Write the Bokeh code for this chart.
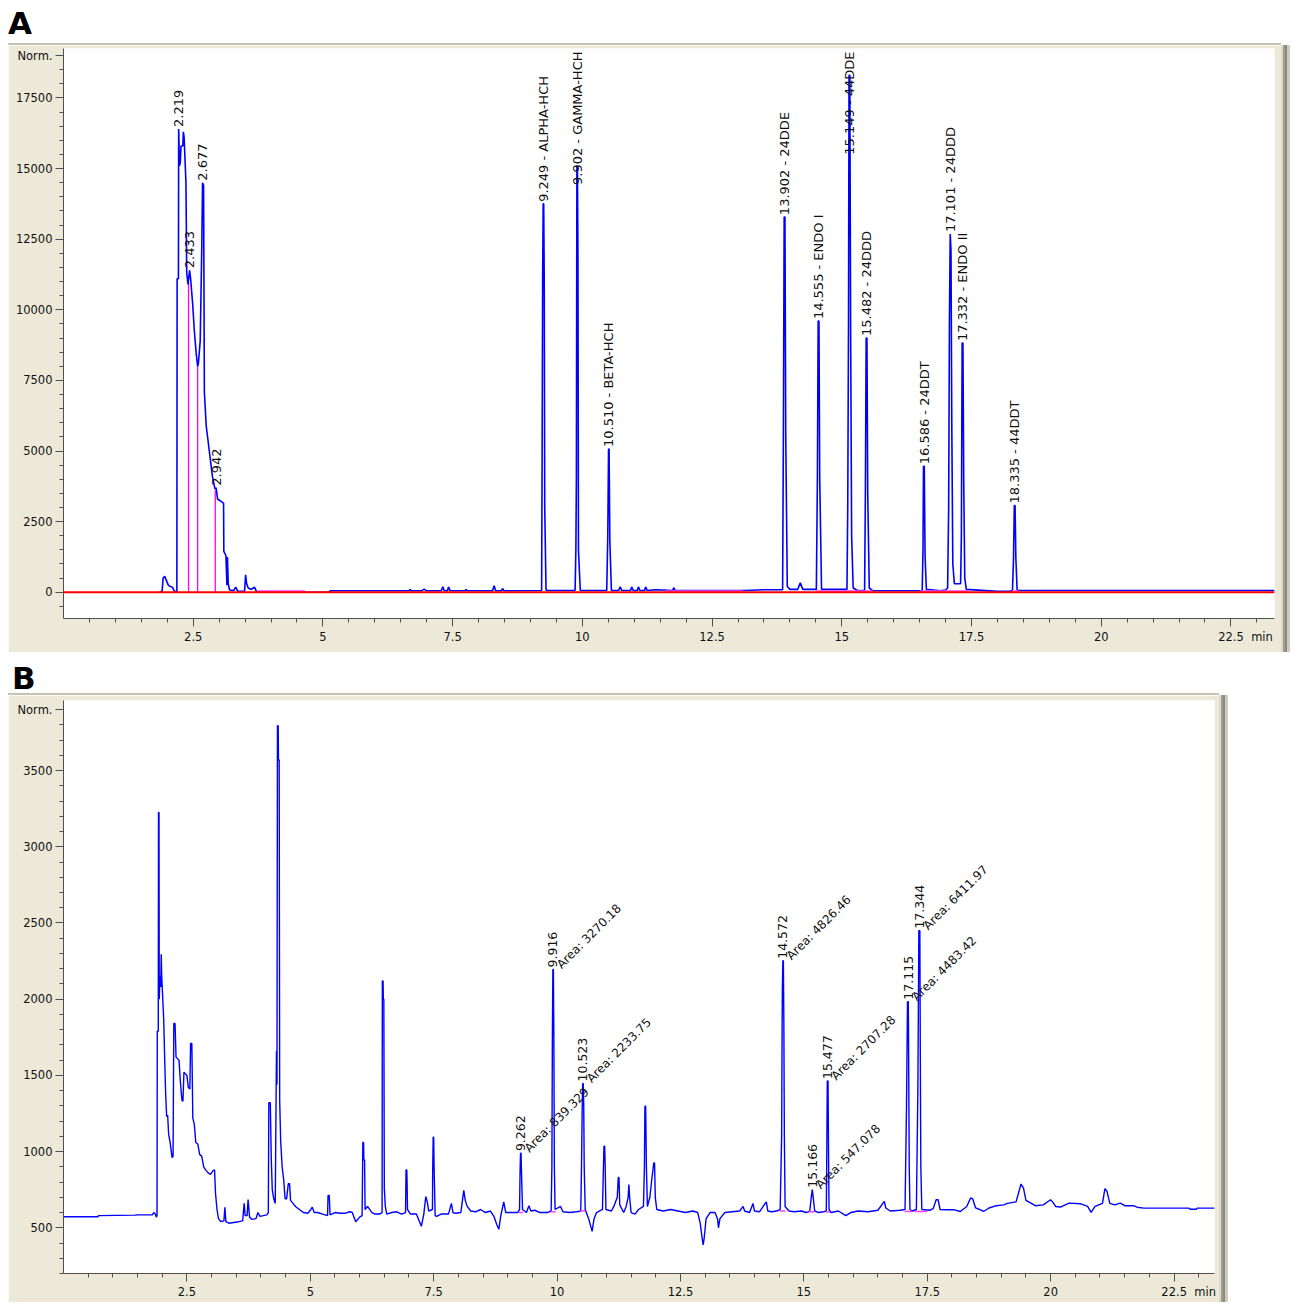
from bokeh.plotting import figure
from bokeh.models import FixedTicker, NumeralTickFormatter, Div, Span
from bokeh.layouts import column
from bokeh.embed import file_html
from bokeh.resources import INLINE
from bokeh.core.properties import value
import math

# ---------------- DATA : panel A (standard mix) ----------------
trace_a = [
    (1.85, 0), (1.90, 30), (1.92, 500), (1.95, 560), (1.98, 430), (2.02, 250), (2.06, 200),
    (2.10, 180), (2.13, 60), (2.17, 0), (2.185, 0), (2.19, 11100), (2.215, 11100), (2.22, 16400),
    (2.235, 15100), (2.25, 15200), (2.265, 15800), (2.30, 15800), (2.31, 16300), (2.325, 16100),
    (2.36, 14500), (2.375, 11300), (2.40, 10900), (2.43, 11400), (2.45, 11100), (2.49, 10200),
    (2.52, 9300), (2.555, 8500), (2.585, 8000), (2.60, 8100), (2.635, 8900), (2.665, 12200),
    (2.68, 14500), (2.70, 14400), (2.715, 7100), (2.75, 5900), (2.81, 5000), (2.87, 4100),
    (2.92, 3650), (2.94, 3700), (2.97, 3300), (3.05, 3200), (3.085, 3150), (3.09, 1450),
    (3.13, 1300), (3.15, 250), (3.16, 1250), (3.175, 300), (3.20, 80), (3.28, 60), (3.32, 180),
    (3.36, 30), (3.49, 30), (3.51, 620), (3.53, 300), (3.56, 150), (3.62, 100), (3.68, 180),
    (3.72, 20), (3.80, 0), (5.10, 0), (5.15, 50), (6.30, 50), (6.66, 50), (6.68, 100), (6.70, 50),
    (6.90, 50), (6.95, 110), (7.00, 50), (7.28, 50), (7.31, 190), (7.34, 50), (7.40, 50),
    (7.42, 190), (7.45, 50), (7.74, 50), (7.76, 100), (7.78, 50), (8.27, 50), (8.30, 230),
    (8.33, 50), (8.44, 50), (8.46, 130), (8.49, 50), (9.20, 60), (9.215, 60), (9.225, 5000),
    (9.235, 11200), (9.245, 13750), (9.255, 13750), (9.265, 11200), (9.275, 3000), (9.30, 80),
    (9.33, 60), (9.86, 60), (9.875, 1500), (9.885, 4000), (9.895, 15070), (9.905, 15070),
    (9.915, 12000), (9.925, 1500), (9.96, 60), (10.47, 60), (10.49, 2000), (10.505, 5070),
    (10.515, 5070), (10.53, 1800), (10.56, 60), (10.70, 60), (10.73, 190), (10.76, 60),
    (10.93, 60), (10.95, 190), (10.98, 60), (11.06, 60), (11.08, 190), (11.11, 60), (11.20, 60),
    (11.22, 190), (11.25, 60), (11.40, 90), (11.55, 80), (11.74, 60), (11.76, 160), (11.79, 60),
    (12.10, 60), (12.80, 60), (13.13, 60), (13.50, 90), (13.80, 90), (13.86, 90), (13.875, 5800),
    (13.89, 13280), (13.905, 13280), (13.92, 5500), (13.95, 200), (14.00, 100), (14.15, 100),
    (14.20, 330), (14.25, 100), (14.45, 100), (14.51, 100), (14.53, 4000), (14.545, 9600),
    (14.56, 9600), (14.575, 4000), (14.61, 100), (15.05, 100), (15.10, 100), (15.115, 3000),
    (15.13, 9600), (15.14, 18300), (15.155, 18300), (15.17, 9500), (15.19, 2000), (15.22, 150),
    (15.30, 60), (15.44, 60), (15.455, 3500), (15.47, 9000), (15.485, 9000), (15.50, 3500),
    (15.53, 150), (15.60, 50), (16.50, 50), (16.55, 60), (16.565, 1500), (16.575, 4460),
    (16.59, 4460), (16.605, 1300), (16.63, 100), (16.90, 50), (17.00, 80), (17.04, 150),
    (17.06, 3000), (17.075, 9700), (17.09, 12680), (17.105, 12100), (17.12, 6000), (17.14, 1000),
    (17.17, 300), (17.29, 300), (17.305, 2000), (17.32, 8820), (17.335, 8820), (17.35, 4000),
    (17.37, 500), (17.40, 100), (18.00, 30), (18.25, 40), (18.29, 60), (18.31, 1200),
    (18.325, 3070), (18.34, 3070), (18.355, 1200), (18.38, 60), (23.34, 60),
]
a_time = [p[0] for p in trace_a]
a_signal = [p[1] for p in trace_a]

a_peak_rt = ["2.219", "2.433", "2.677", "2.942", "9.249", "9.902", "10.510", "13.902",
             "14.555", "15.149", "15.482", "16.586", "17.101", "17.332", "18.335"]
a_peak_name = ["", "", "", "", "ALPHA-HCH", "GAMMA-HCH", "BETA-HCH", "24DDE",
               "ENDO I", "44DDE", "24DDD", "24DDT", "24DDD", "ENDO II", "44DDT"]
a_peak_height = [16400, 11400, 14500, 3700, 13750, 15070, 5070, 13280,
                 9600, 18300, 9000, 4460, 12680, 8820, 3070]

a_split_time = [2.41, 2.585, 2.925]
a_split_top = [10950, 8040, 3600]

a_base_start = [3.75, 11.60, 14.50, 16.50, 18.28]
a_base_end = [4.65, 13.10, 15.60, 17.45, 18.40]
a_base_level = [40, 40, 40, 40, 40]

a_y_ticks = [0, 2500, 5000, 7500, 10000, 12500, 15000, 17500]

# ---------------- DATA : panel B (sample) ----------------
trace_b = [
    (0.00, 572), (0.70, 572), (0.71, 580), (1.45, 583), (1.50, 585), (1.80, 585), (1.83, 600),
    (1.86, 590), (1.88, 570), (1.895, 580), (1.90, 1790), (1.92, 1790), (1.925, 3225),
    (1.935, 3225), (1.94, 2000), (1.955, 2150), (1.97, 2080), (1.98, 2295), (1.99, 2150),
    (2.00, 2080), (2.03, 1870), (2.05, 1610), (2.07, 1375), (2.09, 1230), (2.11, 1240),
    (2.13, 1115), (2.16, 1060), (2.20, 960), (2.22, 970), (2.235, 1840), (2.26, 1840),
    (2.28, 1620), (2.31, 1610), (2.34, 1600), (2.37, 1450), (2.40, 1335), (2.42, 1330),
    (2.44, 1520), (2.47, 1510), (2.50, 1500), (2.53, 1420), (2.56, 1410), (2.575, 1710),
    (2.60, 1710), (2.62, 1220), (2.65, 1180), (2.68, 1060), (2.72, 1050), (2.76, 980),
    (2.80, 970), (2.84, 900), (2.88, 880), (2.93, 860), (2.98, 850), (3.03, 875), (3.06, 880),
    (3.08, 725), (3.11, 620), (3.14, 560), (3.19, 540), (3.25, 545), (3.27, 635), (3.29, 540),
    (3.35, 530), (3.45, 535), (3.55, 540), (3.63, 545), (3.66, 660), (3.68, 580), (3.72, 580),
    (3.74, 685), (3.77, 570), (3.82, 555), (3.90, 560), (3.94, 600), (3.98, 575), (4.05, 580),
    (4.12, 585), (4.15, 600), (4.16, 1320), (4.19, 1320), (4.21, 950), (4.23, 750), (4.26, 690),
    (4.29, 660), (4.30, 1060), (4.315, 1660), (4.325, 1440), (4.335, 3795), (4.35, 3795),
    (4.355, 3570), (4.37, 3570), (4.38, 1335), (4.40, 1070), (4.43, 900), (4.46, 820),
    (4.49, 690), (4.52, 690), (4.555, 790), (4.58, 790), (4.60, 680), (4.65, 660), (4.70, 640),
    (4.78, 620), (4.86, 600), (4.95, 595), (5.00, 615), (5.04, 635), (5.08, 600), (5.15, 600),
    (5.25, 590), (5.35, 580), (5.36, 712), (5.385, 712), (5.40, 585), (5.50, 600), (5.60, 595),
    (5.70, 595), (5.80, 605), (5.85, 600), (5.92, 540), (6.00, 570), (6.05, 580), (6.065, 1060),
    (6.08, 1060), (6.085, 945), (6.10, 945), (6.11, 620), (6.16, 640), (6.25, 600), (6.31, 590),
    (6.40, 590), (6.455, 600), (6.46, 2120), (6.475, 2120), (6.48, 2000), (6.49, 2000),
    (6.50, 760), (6.52, 640), (6.55, 590), (6.65, 600), (6.75, 605), (6.85, 590), (6.93, 600),
    (6.94, 880), (6.955, 880), (6.96, 820), (6.97, 620), (7.03, 590), (7.15, 590), (7.25, 510),
    (7.30, 590), (7.34, 705), (7.37, 670), (7.40, 610), (7.475, 620), (7.48, 870), (7.49, 1095),
    (7.50, 1095), (7.51, 870), (7.53, 580), (7.56, 575), (7.65, 590), (7.80, 590), (7.86, 660),
    (7.89, 600), (7.95, 595), (8.05, 600), (8.11, 745), (8.14, 680), (8.18, 640), (8.25, 610),
    (8.35, 605), (8.45, 620), (8.55, 600), (8.65, 610), (8.72, 575), (8.78, 520), (8.82, 490),
    (8.86, 580), (8.92, 670), (8.96, 600), (9.05, 600), (9.20, 600), (9.24, 620), (9.25, 860),
    (9.26, 990), (9.27, 990), (9.28, 860), (9.30, 620), (9.38, 600), (9.43, 645), (9.47, 610),
    (9.55, 615), (9.65, 600), (9.80, 600), (9.88, 610), (9.895, 900), (9.905, 1750),
    (9.915, 2195), (9.925, 2195), (9.935, 1750), (9.945, 900), (9.96, 620), (10.07, 640),
    (10.12, 605), (10.25, 600), (10.40, 605), (10.48, 610), (10.495, 900), (10.51, 1310),
    (10.52, 1447), (10.53, 1447), (10.54, 1310), (10.55, 900), (10.57, 620), (10.64, 560),
    (10.71, 476), (10.75, 560), (10.80, 600), (10.92, 620), (10.94, 900), (10.95, 1035),
    (10.965, 1035), (10.975, 900), (10.99, 620), (11.10, 610), (11.15, 640), (11.22, 700),
    (11.24, 830), (11.255, 830), (11.27, 650), (11.35, 600), (11.40, 640), (11.44, 700),
    (11.455, 783), (11.47, 700), (11.50, 600), (11.58, 590), (11.65, 620), (11.75, 640),
    (11.77, 900), (11.78, 1298), (11.795, 1298), (11.81, 900), (11.83, 640), (11.88, 700),
    (11.92, 820), (11.96, 926), (11.975, 926), (11.99, 700), (12.02, 620), (12.15, 610),
    (12.30, 620), (12.45, 610), (12.60, 600), (12.75, 610), (12.85, 600), (12.90, 530),
    (12.94, 430), (12.96, 388), (12.98, 430), (13.02, 560), (13.10, 600), (13.20, 600),
    (13.25, 560), (13.27, 500), (13.30, 560), (13.40, 600), (13.55, 605), (13.70, 610),
    (13.77, 640), (13.80, 610), (13.90, 600), (13.97, 660), (14.00, 610), (14.10, 605),
    (14.24, 670), (14.27, 610), (14.35, 605), (14.45, 610), (14.52, 620), (14.55, 1100),
    (14.56, 1836), (14.565, 2066), (14.575, 2252), (14.585, 2252), (14.595, 1836),
    (14.605, 1100), (14.62, 640), (14.70, 610), (14.80, 605), (14.95, 610), (15.05, 600),
    (15.12, 610), (15.15, 700), (15.17, 750), (15.19, 700), (15.22, 610), (15.30, 600),
    (15.40, 605), (15.455, 610), (15.465, 1000), (15.475, 1463), (15.49, 1463), (15.50, 1000),
    (15.51, 620), (15.55, 600), (15.70, 610), (15.85, 580), (15.95, 600), (16.10, 610),
    (16.30, 605), (16.50, 615), (16.60, 660), (16.63, 673), (16.66, 630), (16.75, 610),
    (16.95, 615), (17.05, 620), (17.08, 1300), (17.10, 1984), (17.115, 1984), (17.12, 1800),
    (17.135, 900), (17.15, 620), (17.20, 610), (17.28, 620), (17.31, 1400), (17.33, 2450),
    (17.35, 2450), (17.36, 1600), (17.37, 900), (17.39, 620), (17.55, 615), (17.62, 625),
    (17.68, 684), (17.72, 684), (17.76, 620), (17.90, 618), (18.05, 618), (18.17, 607),
    (18.30, 640), (18.38, 696), (18.42, 690), (18.48, 630), (18.56, 620), (18.64, 607),
    (18.75, 630), (18.90, 645), (19.05, 650), (19.12, 660), (19.30, 670), (19.40, 787),
    (19.45, 760), (19.50, 680), (19.69, 645), (19.85, 650), (20.00, 684), (20.04, 670),
    (20.10, 640), (20.20, 636), (20.37, 662), (20.60, 658), (20.75, 640), (20.82, 601),
    (20.90, 640), (21.05, 660), (21.10, 757), (21.14, 740), (21.20, 660), (21.30, 650),
    (21.41, 662), (21.50, 645), (21.68, 645), (21.75, 635), (21.89, 629), (22.80, 629),
    (22.83, 622), (22.95, 622), (22.97, 629), (23.32, 629),
]
b_time = [p[0] for p in trace_b]
b_signal = [p[1] for p in trace_b]

b_peak_rt = ["9.262", "9.916", "10.523", "14.572", "15.166", "15.477", "17.115", "17.344"]
b_peak_area = ["839.329", "3270.18", "2233.75", "4826.46", "547.078", "2707.28", "4483.42", "6411.97"]
b_peak_height = [990, 2195, 1447, 2252, 750, 1463, 1984, 2450]

b_base_start = [9.22, 9.87, 10.47, 14.51, 15.10, 15.44, 17.04, 17.24]
b_base_end = [9.31, 9.97, 10.57, 14.63, 15.22, 15.53, 17.19, 17.50]
b_base_level = [600, 605, 610, 610, 605, 605, 607, 607]

b_y_ticks = [500, 1000, 1500, 2000, 2500, 3000, 3500]

x_ticks = [2.5, 5, 7.5, 10, 12.5, 15, 17.5, 20, 22.5]
x_unit = "min"

# ---------------- STYLE ----------------
BEIGE = "#ECE9D8"
BLUE = "#0000FF"
AXIS_COL = "#505050"
TXT = "#111111"
FONT = "DejaVu Sans"

A_X = (0.0, 23.34)
A_Y = (-930.0, 19250.0)
B_X = (0.0, 23.32)
B_Y = (200.0, 3960.0)

WINDOW_SHADOW = ("0 -2px 0 #c6c3b2, 2px 0 0 #dcd9ca, 4px 0 0 #a09e92, "
                 "6px 0 0 #8c8a80, 9px 0 0 #cfccbd")
# left padding (figure spaces) keeps the number centred on its tick
UNIT_PAD = "\u2007\u2007\u2007\u2007"


def text_px(s, size):
    w = 0.0
    for ch in s:
        if ch.isdigit():
            w += 0.636
        elif ch in ".: ":
            w += 0.318
        elif ch == "-":
            w += 0.361
        elif ch.isupper():
            w += 0.76
        else:
            w += 0.6
    return w * size


def make_fig(xr, yr, fw, fh, left, right, top, bottom, yticks, ytop_tick, ystep_minor):
    p = figure(frame_width=fw, frame_height=fh, x_range=xr, y_range=yr,
               output_backend="svg", toolbar_location=None,
               min_border_left=left, min_border_right=right,
               min_border_top=top, min_border_bottom=bottom)
    p.background_fill_color = "white"
    p.border_fill_color = BEIGE
    p.outline_line_color = None
    p.grid.visible = False
    minor_x = [i * 0.5 for i in range(0, 48) if (i * 0.5) % 2.5 != 0 and i * 0.5 <= xr[1]]
    p.xaxis.ticker = FixedTicker(ticks=x_ticks, minor_ticks=minor_x)
    p.xaxis.formatter = NumeralTickFormatter(format="0.[0]")
    last = x_ticks[-1]
    p.xaxis.major_label_overrides = {last: UNIT_PAD + "%g\u00a0\u00a0%s" % (last, x_unit)}
    lo = int(math.ceil(yr[0] / ystep_minor)) * ystep_minor
    minor_y = list(range(lo, ytop_tick + 1, ystep_minor))
    p.yaxis.ticker = FixedTicker(ticks=yticks + [ytop_tick], minor_ticks=minor_y)
    p.yaxis.formatter = NumeralTickFormatter(format="0")
    p.yaxis.major_label_overrides = {ytop_tick: "Norm."}
    for ax in (p.xaxis[0], p.yaxis[0]):
        ax.axis_line_color = AXIS_COL
        ax.major_tick_line_color = AXIS_COL
        ax.minor_tick_line_color = AXIS_COL
        ax.major_tick_in = 0
        ax.minor_tick_in = 0
        ax.major_tick_out = 8
        ax.minor_tick_out = 4
        ax.major_label_text_font = FONT
        ax.major_label_text_font_size = "11.5px"
        ax.major_label_text_color = TXT
    p.xaxis.major_label_standoff = 3
    p.yaxis.major_label_standoff = 3
    p.margin = (0, 0, 0, 0)
    p.styles = {"box-shadow": WINDOW_SHADOW}
    return p


# ---------------- PANEL A ----------------
pa = make_fig(A_X, A_Y, 1211, 570, 55, 7, 3, 34, a_y_ticks, 19000, 500)
ax_px = (A_X[1] - A_X[0]) / 1211.0
ay_px = (A_Y[1] - A_Y[0]) / 570.0

pa.segment(x0=a_split_time, y0=[0] * len(a_split_time), x1=a_split_time, y1=a_split_top,
           line_color="#FF00FF", line_width=1.3)
pa.line(a_time, a_signal, line_color=BLUE, line_width=1.6)
pa.segment(x0=a_base_start, y0=a_base_level, x1=a_base_end, y1=a_base_level,
           line_color="#FF40FF", line_width=1.5)
pa.add_layout(Span(location=0, dimension="width", line_color="#FF0000", line_width=2))

A_FS = 13
lab_l = dict(x=[], y=[], t=[])
lab_r = dict(x=[], y=[], t=[])
for rt, nm, h in zip(a_peak_rt, a_peak_name, a_peak_height):
    txt = rt + " - " + nm if nm else rt
    y0 = h + 2 * ay_px
    need = y0 + text_px(txt, A_FS) * ay_px
    if need > A_Y[1] - 3 * ay_px:
        lab_r["x"].append(float(rt)); lab_r["y"].append(A_Y[1] - 3 * ay_px); lab_r["t"].append(txt)
    else:
        lab_l["x"].append(float(rt)); lab_l["y"].append(y0); lab_l["t"].append(txt)
for d, al in ((lab_l, "left"), (lab_r, "right")):
    pa.text(x=d["x"], y=d["y"], text=d["t"], angle=math.pi / 2, text_align=al,
            text_baseline="middle", text_font=value(FONT), text_font_size="%dpx" % A_FS,
            text_color=TXT)

# ---------------- PANEL B ----------------
pb = make_fig(B_X, B_Y, 1151, 573, 55, 5, 5, 29, b_y_ticks, 3900, 100)
bx_px = (B_X[1] - B_X[0]) / 1151.0
by_px = (B_Y[1] - B_Y[0]) / 573.0

pb.line(b_time, b_signal, line_color=BLUE, line_width=1.4)
pb.segment(x0=b_base_start, y0=b_base_level, x1=b_base_end, y1=b_base_level,
           line_color="#FF40FF", line_width=1.5)

bx = [float(r) for r in b_peak_rt]
pb.text(x=bx, y=[h + 2 * by_px for h in b_peak_height], text=b_peak_rt, angle=math.pi / 2,
        text_align="left", text_baseline="middle", text_font=value(FONT),
        text_font_size="12.5px", text_color=TXT)
pb.text(x=[x + 6 * bx_px for x in bx], y=[h + 3 * by_px for h in b_peak_height],
        text=["Area: " + a for a in b_peak_area], angle=math.pi / 4,
        text_align="left", text_baseline="middle", text_font=value(FONT),
        text_font_size="12px", text_color=TXT)

# ---------------- panel letters ----------------
div_a = Div(text="A", width=60, height=37, margin=(0, 0, 0, 0),
            styles={"font-family": FONT, "font-weight": "bold", "font-size": "31px",
                    "line-height": "31px", "padding-top": "0px", "color": "black"})
div_b = Div(text="B", width=60, height=43, margin=(0, 0, 0, 0),
            styles={"font-family": FONT, "font-weight": "bold", "font-size": "31px",
                    "line-height": "31px", "padding-top": "11px", "padding-left": "4px",
                    "color": "black"})

layout = column(div_a, pa, div_b, pb, spacing=0, margin=(8, 0, 0, 8))

open("out.html", "w").write(file_html(layout, INLINE))
